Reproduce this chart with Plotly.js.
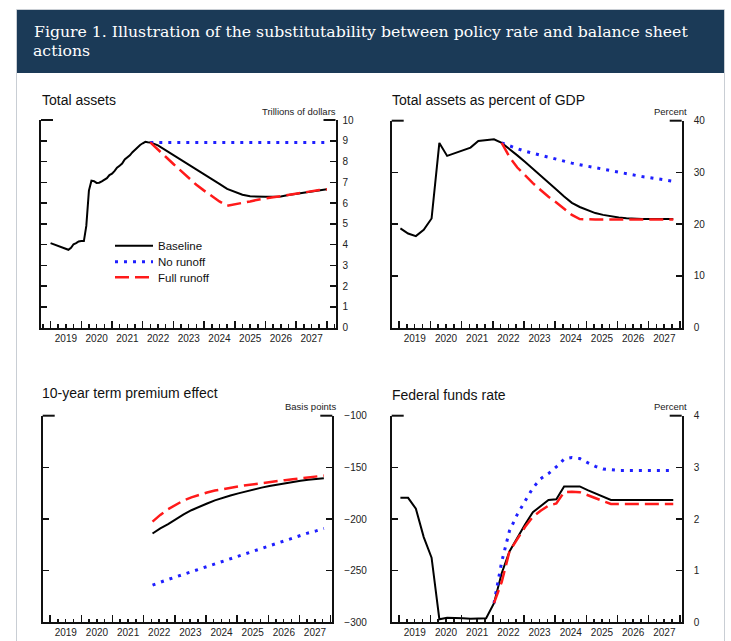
<!DOCTYPE html>
<html><head><meta charset="utf-8">
<script src="https://cdn.plot.ly/plotly-3.0.1.min.js"></script>
<style>html,body{margin:0;padding:0;background:#fff;}#chart{width:731px;height:641px;}</style>
</head><body><div id="chart"></div>
<script>
// ---------- DATA ----------
const seriesNames = ["Baseline", "No runoff", "Full runoff"];

// quarterly x positions used by panels 2-4
const quarters = [
 "2019-01-15","2019-04-15","2019-07-15","2019-10-15",
 "2020-01-15","2020-04-15","2020-07-15","2020-10-15",
 "2021-01-15","2021-04-15","2021-07-15","2021-10-15",
 "2022-01-15","2022-04-15","2022-07-15","2022-10-15",
 "2023-01-15","2023-04-15","2023-07-15","2023-10-15",
 "2024-01-15","2024-04-15","2024-07-15","2024-10-15",
 "2025-01-15","2025-04-15","2025-07-15","2025-10-15",
 "2026-01-15","2026-04-15","2026-07-15","2026-10-15",
 "2027-01-15","2027-04-15","2027-07-15","2027-10-15"];

// Panel 1: Total assets (trillions of dollars)
const taHistDates = [
 "2019-01-01","2019-02-01","2019-03-01","2019-04-01","2019-05-01","2019-06-01","2019-07-01","2019-08-01","2019-09-01","2019-10-01","2019-11-01","2019-12-01",
 "2020-01-01","2020-02-01","2020-03-01","2020-04-01","2020-05-01","2020-06-01","2020-07-01","2020-08-01","2020-09-01","2020-10-01","2020-11-01","2020-12-01",
 "2021-01-01","2021-02-01","2021-03-01","2021-04-01","2021-05-01","2021-06-01","2021-07-01","2021-08-01","2021-09-01","2021-10-01","2021-11-01","2021-12-01",
 "2022-01-01","2022-02-01","2022-03-01","2022-04-01"];
const taHist = [
 4.07,4.02,3.97,3.92,3.87,3.83,3.78,3.75,3.85,4.02,4.07,4.15,
 4.17,4.17,4.9,6.6,7.08,7.05,6.97,6.98,7.05,7.12,7.2,7.35,
 7.42,7.55,7.7,7.8,7.9,8.1,8.2,8.3,8.45,8.58,8.7,8.8,
 8.88,8.95,8.93,8.92];
const taProjDates = [
 "2022-07-01","2022-10-01",
 "2023-01-01","2023-04-01","2023-07-01","2023-10-01",
 "2024-01-01","2024-04-01","2024-07-01","2024-10-01",
 "2025-01-01","2025-04-01","2025-07-01","2025-10-01",
 "2026-01-01","2026-04-01","2026-07-01","2026-10-01",
 "2027-01-01","2027-04-01","2027-07-01","2027-10-01","2028-01-01"];
const taBaselineProj = [8.78,8.55,8.32,8.08,7.85,7.62,7.39,7.16,6.92,6.68,6.52,6.4,6.33,6.3,6.3,6.3,6.32,6.39,6.45,6.52,6.58,6.63,6.67];
const taScenarioStart = "2022-04-01";
const taNoRunoff   = [8.92,8.92,8.92,8.92,8.92,8.92,8.92,8.92,8.92,8.92,8.92,8.92,8.92,8.92,8.92,8.92,8.92,8.92,8.92,8.92,8.92,8.92,8.92,8.92];
const taFullRunoff = [8.92,8.6,8.23,7.88,7.55,7.2,6.88,6.6,6.33,6.08,5.87,5.93,6.0,6.08,6.16,6.23,6.28,6.33,6.39,6.45,6.52,6.58,6.63,6.66];

// Panel 2: Total assets as percent of GDP
const gdpBaseline = [19.2,18.2,17.7,18.9,21.1,35.7,33.2,33.7,34.2,34.8,36.1,36.3,
 36.4,35.7,34.55,33.3,32.0,30.65,29.33,28.03,26.72,25.37,24.13,23.33,
 22.7,22.15,21.8,21.5,21.28,21.15,21.05,21.0,21.0,21.0,21.0,21.0];
const gdpNoRunoff   = [35.7,35.1,34.6,34.1,33.7,33.3,32.9,32.5,32.1,31.8,31.5,31.2,30.9,30.6,30.3,30.0,29.7,29.5,29.2,29.0,28.8,28.6,28.3];
const gdpFullRunoff = [35.7,33.0,30.95,29.4,27.95,26.6,25.3,24.2,23.0,21.8,21.0,20.9,20.9,20.9,20.9,20.9,20.9,20.9,20.9,20.9,20.9,20.9,20.9];

// Panel 3: 10-year term premium effect (basis points), from 2022Q2
const tpBaseline   = [-214,-209,-205,-200,-195.5,-191.5,-188,-185,-182,-179.5,-177.3,-175.2,-173.2,-171.3,-169.6,-168,-166.6,-165.3,-164.1,-163,-162,-161.2,-160.5];
const tpNoRunoff   = [-264,-261,-258.5,-256,-253.5,-251,-248.5,-246,-243.5,-241,-238.5,-236,-233.5,-231,-228.5,-226,-223.5,-221,-218.5,-216,-213.5,-211.5,-209];
const tpFullRunoff = [-202.5,-196,-190.5,-186,-182,-179,-176.5,-174.3,-172.5,-170.9,-169.6,-168.4,-167.3,-166.2,-165.2,-164.2,-163.3,-162.4,-161.5,-160.6,-159.7,-158.8,-158];

// Panel 4: Federal funds rate (percent)
const ffBaseline = [2.41,2.41,2.2,1.65,1.25,0.06,0.09,0.09,0.08,0.07,0.08,0.08,
 0.37,0.95,1.37,1.65,1.9,2.13,2.25,2.37,2.38,2.63,2.63,2.63,
 2.56,2.5,2.43,2.37,2.37,2.37,2.37,2.37,2.37,2.37,2.37,2.37];
const ffNoRunoff   = [0.37,1.17,1.77,2.09,2.35,2.6,2.78,2.88,3.01,3.16,3.19,3.17,3.09,3.02,2.97,2.95,2.94,2.94,2.94,2.94,2.94,2.94,2.94,2.94];
const ffFullRunoff = [0.37,0.78,1.37,1.62,1.85,2.04,2.16,2.26,2.3,2.52,2.53,2.52,2.46,2.4,2.34,2.29,2.29,2.29,2.29,2.29,2.29,2.29,2.29,2.29];

const panelTitles = ["Total assets","Total assets as percent of GDP","10-year term premium effect","Federal funds rate"];
const unitLabels = ["Trillions of dollars","Percent","Basis points","Percent"];
const figTitle1 = "Figure 1. Illustration of the substitutability between policy rate and balance sheet";
const figTitle2 = "actions";

// ---------- STYLE / LAYOUT ----------
const W = 731, H = 641;
const px = v => v / W, py = v => 1 - v / H;
const SANS = "Liberation Sans, Arial, sans-serif";
const SERIF = "DejaVu Serif, Georgia, serif";
const colors = ["#000000", "#1f1fff", "#ff1a1a"];
const dashes = ["solid", "3px,6px", "14px,6px"];
const widths = [2, 3, 2.5];

function line(k, x, y, xa, ya, leg) {
  return {type: "scatter", mode: "lines", x: x, y: y, xaxis: xa, yaxis: ya,
    name: seriesNames[k], showlegend: !!leg, legend: leg || undefined,
    line: {color: colors[k], dash: dashes[k], width: widths[k]}, hoverinfo: "skip"};
}
const projQ2 = quarters.slice(13);
const projQ1 = quarters.slice(12);
const scenDates = [taScenarioStart].concat(taProjDates);

const traces = [
  line(0, taHistDates.concat(taProjDates), taHist.concat(taBaselineProj), "x", "y", "legend"),
  line(1, scenDates, taNoRunoff, "x", "y", "legend2"),
  line(2, scenDates, taFullRunoff, "x", "y", "legend3"),
  line(0, quarters, gdpBaseline, "x2", "y2"),
  line(1, projQ2, gdpNoRunoff, "x2", "y2"),
  line(2, projQ2, gdpFullRunoff, "x2", "y2"),
  line(0, projQ2, tpBaseline, "x3", "y3"),
  line(1, projQ2, tpNoRunoff, "x3", "y3"),
  line(2, projQ2, tpFullRunoff, "x3", "y3"),
  line(0, quarters, ffBaseline, "x4", "y4"),
  line(1, projQ1, ffNoRunoff, "x4", "y4"),
  line(2, projQ1, ffFullRunoff, "x4", "y4")
];

const panels = [
  {xl: 41, xr: 335.5, yt: 120, yb: 327.7, xr0: "2018-09-09", xr1: "2028-04-12", yr: [0, 10], dt: 1, so: 3},
  {xl: 391.7, xr: 681.7, yt: 120.7, yb: 327.7, xr0: "2018-10-05", xr1: "2028-01-22", yr: [0, 40], dt: 10, so: 8},
  {xl: 42.7, xr: 332.3, yt: 415.7, yb: 622.3, xr0: "2018-10-05", xr1: "2028-01-22", yr: [-300, -100], dt: 50, so: 8},
  {xl: 391.7, xr: 681.7, yt: 415.7, yb: 622.3, xr0: "2018-10-05", xr1: "2028-01-22", yr: [0, 4], dt: 1, so: 8}
];
const titlePos = [[39.5, 100], [389.5, 100], [39.5, 393], [389.5, 395]];
const unitPos = [[338, 111], [688.5, 111], [338, 406], [688.5, 406]];

const layout = {
  width: W, height: H, margin: {l: 0, r: 0, t: 0, b: 0},
  paper_bgcolor: "#ffffff", plot_bgcolor: "rgba(0,0,0,0)",
  title: {text: figTitle1, x: px(34), xanchor: "left", xref: "paper", y: py(31.5), yref: "paper", yanchor: "middle",
          font: {family: SERIF, size: 15.7, color: "#ffffff"}},
  shapes: [], annotations: [],
  font: {family: SANS, color: "#222"}
};
const axColor = "#111";
panels.forEach((p, i) => {
  const n = i === 0 ? "" : String(i + 1);
  layout["xaxis" + n] = {
    domain: [px(p.xl), px(p.xr)], range: [p.xr0, p.xr1], type: "date", anchor: "y" + n,
    showline: true, linecolor: axColor, linewidth: 2, ticks: "inside", ticklen: 7, tickwidth: 1.5, tickcolor: axColor,
    dtick: "M12", tick0: "2019-01-01", tickformat: "%Y", ticklabelmode: "period",
    tickfont: {family: SANS, size: 10, color: "#222"}, showgrid: false, zeroline: false, fixedrange: true,
    minor: {dtick: "M3", tick0: "2019-01-01", ticks: "inside", ticklen: 3.5, tickwidth: 1.5, tickcolor: axColor, showgrid: false}
  };
  layout["yaxis" + n] = {
    domain: [py(p.yb), py(p.yt)], range: p.yr, anchor: "x" + n, side: "right",
    showline: true, linecolor: axColor, linewidth: 2, mirror: "ticks", ticks: "inside", ticklen: 6, tickwidth: 1.5, tickcolor: axColor,
    dtick: p.dt, tick0: 0, ticklabelstandoff: p.so,
    tickfont: {family: SANS, size: 10, color: "#222"}, showgrid: false, zeroline: false, fixedrange: true
  };
  const wpx = p.xr - p.xl;
  const xd = "x" + n + " domain", yd = "y" + n + " domain";
  layout.shapes.push({type: "line", xref: xd, yref: yd, x0: 0, x1: 12 / wpx, y0: 1, y1: 1, line: {color: axColor, width: 2}});
  layout.shapes.push({type: "line", xref: xd, yref: yd, x0: 1 - 12 / wpx, x1: 1, y0: 1, y1: 1, line: {color: axColor, width: 2}});
  layout.annotations.push({text: panelTitles[i], xref: "paper", yref: "paper", x: px(titlePos[i][0]), y: py(titlePos[i][1]),
    xanchor: "left", yanchor: "middle", showarrow: false, font: {family: SANS, size: 14, color: "#111"}});
  layout.annotations.push({text: unitLabels[i], xref: "paper", yref: "paper", x: px(unitPos[i][0]), y: py(unitPos[i][1]),
    xanchor: "right", yanchor: "middle", showarrow: false, font: {family: SANS, size: 9.5, color: "#222"}});
});
// header band and card border
layout.shapes.push({type: "rect", xref: "paper", yref: "paper", x0: px(17), x1: px(724), y0: py(73), y1: py(10),
  fillcolor: "#1b3a57", line: {width: 0}, layer: "below"});
layout.shapes.push({type: "line", xref: "paper", yref: "paper", x0: px(16.5), x1: px(724.5), y0: py(9.5), y1: py(9.5), line: {color: "#c9ced4", width: 1}, layer: "below"});
layout.shapes.push({type: "line", xref: "paper", yref: "paper", x0: px(16.5), x1: px(16.5), y0: py(9.5), y1: 0, line: {color: "#c9ced4", width: 1}, layer: "below"});
layout.shapes.push({type: "line", xref: "paper", yref: "paper", x0: px(724.5), x1: px(724.5), y0: py(9.5), y1: 0, line: {color: "#c9ced4", width: 1}, layer: "below"});
layout.annotations.push({text: figTitle2, xref: "paper", yref: "paper", x: px(31), y: py(50.5), xanchor: "left", yanchor: "middle",
  showarrow: false, font: {family: SERIF, size: 15.7, color: "#ffffff"}});

// legends (one per row to control spacing)
const legRows = [245.7, 261.7, 277.3];
["legend", "legend2", "legend3"].forEach((lg, k) => {
  layout[lg] = {x: px(110), y: py(legRows[k]), xanchor: "left", yanchor: "middle", xref: "paper", yref: "paper",
    itemwidth: 38,
    bgcolor: "rgba(0,0,0,0)", borderwidth: 0, font: {family: SANS, size: 11.5, color: "#111"}, itemclick: false, itemdoubleclick: false};
});

Plotly.newPlot("chart", traces, layout, {displayModeBar: false, staticPlot: true});
</script></body></html>
